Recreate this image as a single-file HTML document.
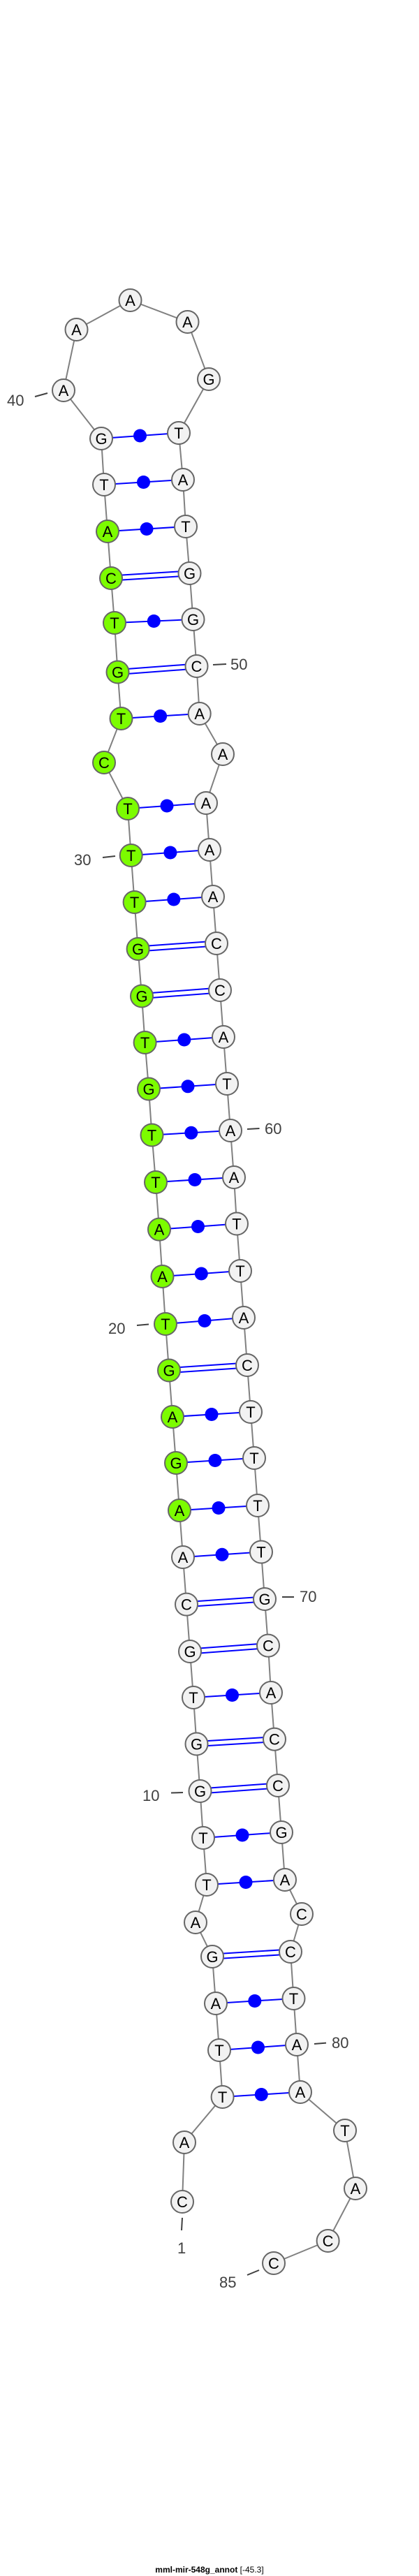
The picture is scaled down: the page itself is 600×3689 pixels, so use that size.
<!DOCTYPE html>
<html><head><meta charset="utf-8"><style>
html,body{margin:0;padding:0;background:#fff;}
svg{display:block;}
.n{stroke:#666;stroke-width:2;fill:#f2f2f2;}
.g{fill:#7cfc00;}
.t{font-family:"Liberation Sans",sans-serif;font-size:22px;text-anchor:middle;fill:#000;}
.l{font-family:"Liberation Sans",sans-serif;font-size:22px;fill:#404040;}
.p{stroke:#0000ff;stroke-width:2;}
.d{fill:#0000ff;}
.k{stroke:#404040;stroke-width:2;}
</style></head><body>
<svg width="600" height="3689" viewBox="0 0 600 3689" xmlns="http://www.w3.org/2000/svg">
<polyline fill="none" stroke="#808080" stroke-width="2" points="261,3153 264,3068 318.6,3003 314,2936 309,2869 304,2802 280,2753 296,2699 291,2632 286.5,2565 281.5,2497.5 277,2431 272,2365 267,2297.6 262,2230 257,2163 252,2095 247,2029 242,1962.5 237,1896 232.5,1828 228,1760.6 223,1693 217.5,1625.5 213,1559.5 207.6,1493 203,1426.5 197.6,1359 192.6,1292 187.7,1225 183,1158 149,1092 173.5,1029 168.5,962.5 164,892 159,828 154,761 149,694 145,628 91,559 109.5,472 186.5,430 268.5,461 299,543 256,620 262,687 266,754 271.5,821 276.5,887 281.5,954 285.7,1022 319,1080 295,1150 300,1217 305,1284 310,1351 315,1418 320,1485 325,1552 330,1619 335,1686 339,1752.5 344,1820 349,1887 354,1955 359,2022 364,2088 369,2156 374,2222.5 379,2290 384,2356.6 388,2424 393,2490.7 398,2557 403,2624 408,2692 432,2741 416,2795 420.5,2862 425,2928 430,2996 494,3051 509,3134 469.6,3209 392,3241"/>
<!-- single (dot) pairs -->
<g class="p">
<line x1="318.6" y1="3003" x2="430" y2="2996"/>
<line x1="314" y1="2936" x2="425" y2="2928"/>
<line x1="309" y1="2869" x2="420.5" y2="2862"/>
<line x1="296" y1="2699" x2="408" y2="2692"/>
<line x1="291" y1="2632" x2="403" y2="2624"/>
<line x1="277" y1="2431" x2="388" y2="2424"/>
<line x1="262" y1="2230" x2="374" y2="2222.5"/>
<line x1="257" y1="2163" x2="369" y2="2156"/>
<line x1="252" y1="2095" x2="364" y2="2088"/>
<line x1="247" y1="2029" x2="359" y2="2022"/>
<line x1="237" y1="1896" x2="349" y2="1887"/>
<line x1="232.5" y1="1828" x2="344" y2="1820"/>
<line x1="228" y1="1760.6" x2="339" y2="1752.5"/>
<line x1="223" y1="1693" x2="335" y2="1686"/>
<line x1="217.5" y1="1625.5" x2="330" y2="1619"/>
<line x1="213" y1="1559.5" x2="325" y2="1552"/>
<line x1="207.6" y1="1493" x2="320" y2="1485"/>
<line x1="192.6" y1="1292" x2="305" y2="1284"/>
<line x1="187.7" y1="1225" x2="300" y2="1217"/>
<line x1="183" y1="1158" x2="295" y2="1150"/>
<line x1="173.5" y1="1029" x2="285.7" y2="1022"/>
<line x1="164" y1="892" x2="276.5" y2="887"/>
<line x1="154" y1="761" x2="266" y2="754"/>
<line x1="149" y1="694" x2="262" y2="687"/>
<line x1="145" y1="628" x2="256" y2="620"/>
</g>
<g class="d">
<circle cx="374.3" cy="2999.5" r="9.5"/>
<circle cx="369.5" cy="2932" r="9.5"/>
<circle cx="364.8" cy="2865.5" r="9.5"/>
<circle cx="352" cy="2695.5" r="9.5"/>
<circle cx="347" cy="2628" r="9.5"/>
<circle cx="332.5" cy="2427.5" r="9.5"/>
<circle cx="318" cy="2226.3" r="9.5"/>
<circle cx="313" cy="2159.5" r="9.5"/>
<circle cx="308" cy="2091.5" r="9.5"/>
<circle cx="303" cy="2025.5" r="9.5"/>
<circle cx="293" cy="1891.5" r="9.5"/>
<circle cx="288.3" cy="1824" r="9.5"/>
<circle cx="283.5" cy="1756.5" r="9.5"/>
<circle cx="279" cy="1689.5" r="9.5"/>
<circle cx="273.8" cy="1622.3" r="9.5"/>
<circle cx="269" cy="1555.8" r="9.5"/>
<circle cx="263.8" cy="1489" r="9.5"/>
<circle cx="248.8" cy="1288" r="9.5"/>
<circle cx="243.9" cy="1221" r="9.5"/>
<circle cx="239" cy="1154" r="9.5"/>
<circle cx="229.6" cy="1025.5" r="9.5"/>
<circle cx="220.3" cy="889.5" r="9.5"/>
<circle cx="210" cy="757.5" r="9.5"/>
<circle cx="205.5" cy="690.5" r="9.5"/>
<circle cx="200.5" cy="624" r="9.5"/>
</g>
<!-- double (GC) pairs -->
<g class="p">
<line x1="304" y1="2798.5" x2="416" y2="2791.5"/><line x1="304" y1="2805.5" x2="416" y2="2798.5"/>
<line x1="286.5" y1="2561.5" x2="398" y2="2553.5"/><line x1="286.5" y1="2568.5" x2="398" y2="2560.5"/>
<line x1="281.5" y1="2494" x2="393" y2="2487.2"/><line x1="281.5" y1="2501" x2="393" y2="2494.2"/>
<line x1="272" y1="2361.5" x2="384" y2="2353.1"/><line x1="272" y1="2368.5" x2="384" y2="2360.1"/>
<line x1="267" y1="2294.1" x2="379" y2="2286.5"/><line x1="267" y1="2301.1" x2="379" y2="2293.5"/>
<line x1="242" y1="1959" x2="354" y2="1951.5"/><line x1="242" y1="1966" x2="354" y2="1958.5"/>
<line x1="203" y1="1423" x2="315" y2="1414.5"/><line x1="203" y1="1430" x2="315" y2="1421.5"/>
<line x1="197.6" y1="1355.5" x2="310" y2="1347.5"/><line x1="197.6" y1="1362.5" x2="310" y2="1354.5"/>
<line x1="168.5" y1="959" x2="281.5" y2="950.5"/><line x1="168.5" y1="966" x2="281.5" y2="957.5"/>
<line x1="159" y1="824.5" x2="271.5" y2="817.5"/><line x1="159" y1="831.5" x2="271.5" y2="824.5"/>
</g>
<!-- nodes -->
<g>
<circle class="n" cx="261" cy="3153" r="16"/><text class="t" x="261" y="3161">C</text>
<circle class="n" cx="264" cy="3068" r="16"/><text class="t" x="264" y="3076">A</text>
<circle class="n" cx="318.6" cy="3003" r="16"/><text class="t" x="318.6" y="3011">T</text>
<circle class="n" cx="314" cy="2936" r="16"/><text class="t" x="314" y="2944">T</text>
<circle class="n" cx="309" cy="2869" r="16"/><text class="t" x="309" y="2877">A</text>
<circle class="n" cx="304" cy="2802" r="16"/><text class="t" x="304" y="2810">G</text>
<circle class="n" cx="280" cy="2753" r="16"/><text class="t" x="280" y="2761">A</text>
<circle class="n" cx="296" cy="2699" r="16"/><text class="t" x="296" y="2707">T</text>
<circle class="n" cx="291" cy="2632" r="16"/><text class="t" x="291" y="2640">T</text>
<circle class="n" cx="286.5" cy="2565" r="16"/><text class="t" x="286.5" y="2573">G</text>
<circle class="n" cx="281.5" cy="2497.5" r="16"/><text class="t" x="281.5" y="2505.5">G</text>
<circle class="n" cx="277" cy="2431" r="16"/><text class="t" x="277" y="2439">T</text>
<circle class="n" cx="272" cy="2365" r="16"/><text class="t" x="272" y="2373">G</text>
<circle class="n" cx="267" cy="2297.6" r="16"/><text class="t" x="267" y="2305.6">C</text>
<circle class="n" cx="262" cy="2230" r="16"/><text class="t" x="262" y="2238">A</text>
<circle class="n g" cx="257" cy="2163" r="16"/><text class="t" x="257" y="2171">A</text>
<circle class="n g" cx="252" cy="2095" r="16"/><text class="t" x="252" y="2103">G</text>
<circle class="n g" cx="247" cy="2029" r="16"/><text class="t" x="247" y="2037">A</text>
<circle class="n g" cx="242" cy="1962.5" r="16"/><text class="t" x="242" y="1970.5">G</text>
<circle class="n g" cx="237" cy="1896" r="16"/><text class="t" x="237" y="1904">T</text>
<circle class="n g" cx="232.5" cy="1828" r="16"/><text class="t" x="232.5" y="1836">A</text>
<circle class="n g" cx="228" cy="1760.6" r="16"/><text class="t" x="228" y="1768.6">A</text>
<circle class="n g" cx="223" cy="1693" r="16"/><text class="t" x="223" y="1701">T</text>
<circle class="n g" cx="217.5" cy="1625.5" r="16"/><text class="t" x="217.5" y="1633.5">T</text>
<circle class="n g" cx="213" cy="1559.5" r="16"/><text class="t" x="213" y="1567.5">G</text>
<circle class="n g" cx="207.6" cy="1493" r="16"/><text class="t" x="207.6" y="1501">T</text>
<circle class="n g" cx="203" cy="1426.5" r="16"/><text class="t" x="203" y="1434.5">G</text>
<circle class="n g" cx="197.6" cy="1359" r="16"/><text class="t" x="197.6" y="1367">G</text>
<circle class="n g" cx="192.6" cy="1292" r="16"/><text class="t" x="192.6" y="1300">T</text>
<circle class="n g" cx="187.7" cy="1225" r="16"/><text class="t" x="187.7" y="1233">T</text>
<circle class="n g" cx="183" cy="1158" r="16"/><text class="t" x="183" y="1166">T</text>
<circle class="n g" cx="149" cy="1092" r="16"/><text class="t" x="149" y="1100">C</text>
<circle class="n g" cx="173.5" cy="1029" r="16"/><text class="t" x="173.5" y="1037">T</text>
<circle class="n g" cx="168.5" cy="962.5" r="16"/><text class="t" x="168.5" y="970.5">G</text>
<circle class="n g" cx="164" cy="892" r="16"/><text class="t" x="164" y="900">T</text>
<circle class="n g" cx="159" cy="828" r="16"/><text class="t" x="159" y="836">C</text>
<circle class="n g" cx="154" cy="761" r="16"/><text class="t" x="154" y="769">A</text>
<circle class="n" cx="149" cy="694" r="16"/><text class="t" x="149" y="702">T</text>
<circle class="n" cx="145" cy="628" r="16"/><text class="t" x="145" y="636">G</text>
<circle class="n" cx="91" cy="559" r="16"/><text class="t" x="91" y="567">A</text>
<circle class="n" cx="109.5" cy="472" r="16"/><text class="t" x="109.5" y="480">A</text>
<circle class="n" cx="186.5" cy="430" r="16"/><text class="t" x="186.5" y="438">A</text>
<circle class="n" cx="268.5" cy="461" r="16"/><text class="t" x="268.5" y="469">A</text>
<circle class="n" cx="299" cy="543" r="16"/><text class="t" x="299" y="551">G</text>
<circle class="n" cx="256" cy="620" r="16"/><text class="t" x="256" y="628">T</text>
<circle class="n" cx="262" cy="687" r="16"/><text class="t" x="262" y="695">A</text>
<circle class="n" cx="266" cy="754" r="16"/><text class="t" x="266" y="762">T</text>
<circle class="n" cx="271.5" cy="821" r="16"/><text class="t" x="271.5" y="829">G</text>
<circle class="n" cx="276.5" cy="887" r="16"/><text class="t" x="276.5" y="895">G</text>
<circle class="n" cx="281.5" cy="954" r="16"/><text class="t" x="281.5" y="962">C</text>
<circle class="n" cx="285.7" cy="1022" r="16"/><text class="t" x="285.7" y="1030">A</text>
<circle class="n" cx="319" cy="1080" r="16"/><text class="t" x="319" y="1088">A</text>
<circle class="n" cx="295" cy="1150" r="16"/><text class="t" x="295" y="1158">A</text>
<circle class="n" cx="300" cy="1217" r="16"/><text class="t" x="300" y="1225">A</text>
<circle class="n" cx="305" cy="1284" r="16"/><text class="t" x="305" y="1292">A</text>
<circle class="n" cx="310" cy="1351" r="16"/><text class="t" x="310" y="1359">C</text>
<circle class="n" cx="315" cy="1418" r="16"/><text class="t" x="315" y="1426">C</text>
<circle class="n" cx="320" cy="1485" r="16"/><text class="t" x="320" y="1493">A</text>
<circle class="n" cx="325" cy="1552" r="16"/><text class="t" x="325" y="1560">T</text>
<circle class="n" cx="330" cy="1619" r="16"/><text class="t" x="330" y="1627">A</text>
<circle class="n" cx="335" cy="1686" r="16"/><text class="t" x="335" y="1694">A</text>
<circle class="n" cx="339" cy="1752.5" r="16"/><text class="t" x="339" y="1760.5">T</text>
<circle class="n" cx="344" cy="1820" r="16"/><text class="t" x="344" y="1828">T</text>
<circle class="n" cx="349" cy="1887" r="16"/><text class="t" x="349" y="1895">A</text>
<circle class="n" cx="354" cy="1955" r="16"/><text class="t" x="354" y="1963">C</text>
<circle class="n" cx="359" cy="2022" r="16"/><text class="t" x="359" y="2030">T</text>
<circle class="n" cx="364" cy="2088" r="16"/><text class="t" x="364" y="2096">T</text>
<circle class="n" cx="369" cy="2156" r="16"/><text class="t" x="369" y="2164">T</text>
<circle class="n" cx="374" cy="2222.5" r="16"/><text class="t" x="374" y="2230.5">T</text>
<circle class="n" cx="379" cy="2290" r="16"/><text class="t" x="379" y="2298">G</text>
<circle class="n" cx="384" cy="2356.6" r="16"/><text class="t" x="384" y="2364.6">C</text>
<circle class="n" cx="388" cy="2424" r="16"/><text class="t" x="388" y="2432">A</text>
<circle class="n" cx="393" cy="2490.7" r="16"/><text class="t" x="393" y="2498.7">C</text>
<circle class="n" cx="398" cy="2557" r="16"/><text class="t" x="398" y="2565">C</text>
<circle class="n" cx="403" cy="2624" r="16"/><text class="t" x="403" y="2632">G</text>
<circle class="n" cx="408" cy="2692" r="16"/><text class="t" x="408" y="2700">A</text>
<circle class="n" cx="432" cy="2741" r="16"/><text class="t" x="432" y="2749">C</text>
<circle class="n" cx="416" cy="2795" r="16"/><text class="t" x="416" y="2803">C</text>
<circle class="n" cx="420.5" cy="2862" r="16"/><text class="t" x="420.5" y="2870">T</text>
<circle class="n" cx="425" cy="2928" r="16"/><text class="t" x="425" y="2936">A</text>
<circle class="n" cx="430" cy="2996" r="16"/><text class="t" x="430" y="3004">A</text>
<circle class="n" cx="494" cy="3051" r="16"/><text class="t" x="494" y="3059">T</text>
<circle class="n" cx="509" cy="3134" r="16"/><text class="t" x="509" y="3142">A</text>
<circle class="n" cx="469.6" cy="3209" r="16"/><text class="t" x="469.6" y="3217">C</text>
<circle class="n" cx="392" cy="3241" r="16"/><text class="t" x="392" y="3249">C</text>
</g>
<!-- number labels -->
<g class="k">
<line x1="50" y1="568" x2="68" y2="563"/>
<line x1="305" y1="952" x2="324" y2="951"/>
<line x1="147" y1="1228" x2="165" y2="1226"/>
<line x1="354" y1="1617" x2="371.5" y2="1616"/>
<line x1="196" y1="1898" x2="213" y2="1896.5"/>
<line x1="404" y1="2287" x2="421" y2="2287"/>
<line x1="245" y1="2567.5" x2="262" y2="2567"/>
<line x1="450" y1="2927" x2="467" y2="2925.6"/>
<line x1="261" y1="3176" x2="260" y2="3194"/>
<line x1="354" y1="3258" x2="371" y2="3251"/>
</g>
<text class="l" x="10" y="581">40</text>
<text class="l" x="330" y="959">50</text>
<text class="l" x="106" y="1239">30</text>
<text class="l" x="379" y="1624">60</text>
<text class="l" x="155" y="1910">20</text>
<text class="l" x="429" y="2294">70</text>
<text class="l" x="204" y="2579">10</text>
<text class="l" x="475" y="2933">80</text>
<text class="l" x="254" y="3227">1</text>
<text class="l" x="314" y="3276">85</text>
<text x="300" y="3684" style="font-family:'Liberation Sans',sans-serif;font-size:12px;text-anchor:middle;fill:#000;"><tspan font-weight="bold">mml-mir-548g_annot</tspan> [-45.3]</text>
</svg>
</body></html>
